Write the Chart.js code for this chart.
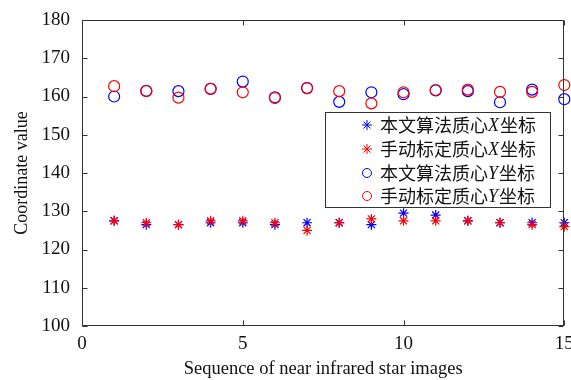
<!DOCTYPE html>
<html>
<head>
<meta charset="utf-8">
<script src="https://cdn.jsdelivr.net/npm/chart.js@4/dist/chart.umd.min.js"></script>
<style>
html,body{margin:0;padding:0;background:#fff;overflow:hidden;}
#wrap{position:relative;width:571px;height:380px;}
</style>
</head>
<body>
<div id="wrap"><canvas id="c" width="571" height="380"></canvas></div>
<script>
// ---- data ----
const seq = [1,2,3,4,5,6,7,8,9,10,11,12,13,14,15];
const algX  = [127.5,126.5,126.5,127,127,126.5,127,127,126.5,129.5,129,127.5,127,127,127];
const manX  = [127.5,127,126.5,127.5,127.5,127,125,127,128,127.5,127.5,127.5,127,126.5,126];
const algY  = [160,161.5,161.4,162,163.9,159.8,162.2,158.6,161.1,160.6,161.6,161.4,158.5,161.8,159.3];
const manY  = [162.7,161.4,159.7,162,161.1,159.6,162.2,161.4,158.2,161.1,161.7,161.8,161.2,161.2,163];
const labels = ['本文算法质心X坐标','手动标定质心X坐标','本文算法质心Y坐标','手动标定质心Y坐标'];
const xTicks = [0,5,10,15];
const yTicks = [100,110,120,130,140,150,160,170,180];

const pts = arr => arr.map((v,i)=>({x:seq[i], y:v}));
const BLUE='#0000ff', RED='#ff0000';

const frame = {
  id:'frame',
  afterDraw(chart){
    const ctx=chart.ctx, a=chart.chartArea, xs=chart.scales.x, ys=chart.scales.y;
    const L=Math.round(a.left)+0.5, R=Math.round(a.right)-0.5, T=Math.round(a.top)+0.5, B=Math.round(a.bottom)-0.5;
    ctx.save();
    ctx.strokeStyle='#333'; ctx.lineWidth=1;
    ctx.strokeRect(L,T,R-L,B-T);
    ctx.beginPath();
    const tl=5;
    xTicks.forEach(v=>{const px=Math.round(xs.getPixelForValue(v))+0.5;
      ctx.moveTo(px,B); ctx.lineTo(px,B-tl); ctx.moveTo(px,T); ctx.lineTo(px,T+tl);});
    yTicks.forEach(v=>{const py=Math.round(ys.getPixelForValue(v))+0.5;
      ctx.moveTo(L,py); ctx.lineTo(L+tl,py); ctx.moveTo(R,py); ctx.lineTo(R-tl,py);});
    ctx.stroke();
    ctx.restore();
  }
};

const legendBox = {
  id:'legendBox',
  afterDraw(chart){
    const ctx=chart.ctx;
    const bx=325.5, by=112.5, bw=225, bh=95;
    ctx.save();
    ctx.fillStyle='#fff'; ctx.fillRect(bx,by,bw,bh);
    ctx.strokeStyle='#333'; ctx.lineWidth=1; ctx.strokeRect(bx,by,bw,bh);
    const rows=[125,149,173,196];
    chart.data.datasets.forEach((ds,i)=>{
      const cy=rows[i], cx=367;
      ctx.strokeStyle=ds.borderColor; ctx.fillStyle=ds.borderColor; ctx.lineWidth=1;
      if(ds.pointStyle==='star'){
        const r=5;
        ctx.beginPath();
        ctx.moveTo(cx-r,cy); ctx.lineTo(cx+r,cy);
        ctx.moveTo(cx,cy-r); ctx.lineTo(cx,cy+r);
        const d=r*0.7;
        ctx.moveTo(cx-d,cy-d); ctx.lineTo(cx+d,cy+d);
        ctx.moveTo(cx-d,cy+d); ctx.lineTo(cx+d,cy-d);
        ctx.stroke();
      } else {
        ctx.beginPath(); ctx.arc(cx,cy,4.5,0,Math.PI*2); ctx.stroke();
      }
      const lab=ds.label;
      const m=lab.match(/^(.*?)([XY])(.*)$/);
      let x=380;
      ctx.fillStyle='#111'; ctx.textBaseline='middle'; ctx.textAlign='left';
      const cjk='18px "Noto Sans CJK SC"', lat='italic 18px "Liberation Serif"';
      ctx.font=cjk; ctx.fillText(m[1],x,cy); x+=ctx.measureText(m[1]).width;
      ctx.font=lat; ctx.fillText(m[2],x,cy+1); x+=ctx.measureText(m[2]).width+1;
      ctx.font=cjk; ctx.fillText(m[3],x,cy);
    });
    ctx.restore();
  }
};

const serif = '"Liberation Serif", "Times New Roman", serif';
new Chart(document.getElementById('c'), {
  type:'scatter',
  data:{datasets:[
    {label:labels[0], data:pts(algX), pointStyle:'star', radius:5, borderColor:BLUE, backgroundColor:BLUE, borderWidth:1.2, order:3, clip:false},
    {label:labels[1], data:pts(manX), pointStyle:'star', radius:5, borderColor:RED, backgroundColor:RED, borderWidth:1.2, order:2, clip:false},
    {label:labels[2], data:pts(algY), pointStyle:'circle', radius:5.5, borderColor:BLUE, backgroundColor:'rgba(0,0,0,0)', borderWidth:1.2, order:1, clip:false},
    {label:labels[3], data:pts(manY), pointStyle:'circle', radius:5.5, borderColor:RED, backgroundColor:'rgba(0,0,0,0)', borderWidth:1.2, order:0, clip:false}
  ]},
  options:{
    responsive:false, animation:false, devicePixelRatio:1,
    layout:{padding:{top:20,right:3,left:0,bottom:0}},
    plugins:{legend:{display:false}, tooltip:{enabled:false}},
    elements:{point:{hoverRadius:5}},
    scales:{
      x:{type:'linear', min:0, max:15,
        afterBuildTicks(s){ s.ticks = xTicks.map(v=>({value:v})); },
        afterFit(s){ s.height=54; s.paddingLeft=0; s.paddingRight=0; },
        grid:{display:false}, border:{display:false},
        ticks:{padding:1, color:'#111', font:{family:serif, size:19, lineHeight:1}, maxRotation:0},
        title:{display:true, text:'Sequence of near infrared star images', color:'#111', font:{family:serif,size:18.5}, padding:{top:0,bottom:0}}
      },
      y:{type:'linear', min:100, max:180,
        afterBuildTicks(s){ s.ticks = yTicks.map(v=>({value:v})); },
        afterFit(s){ s.width=82; s.paddingTop=0; s.paddingBottom=0; },
        grid:{display:false}, border:{display:false},
        ticks:{padding:4, color:'#111', font:{family:serif, size:19}},
        title:{display:true, text:'Coordinate value', color:'#111', font:{family:serif,size:18}, padding:{top:11,bottom:0}}
      }
    }
  },
  plugins:[frame, legendBox]
});
</script>
</body>
</html>
